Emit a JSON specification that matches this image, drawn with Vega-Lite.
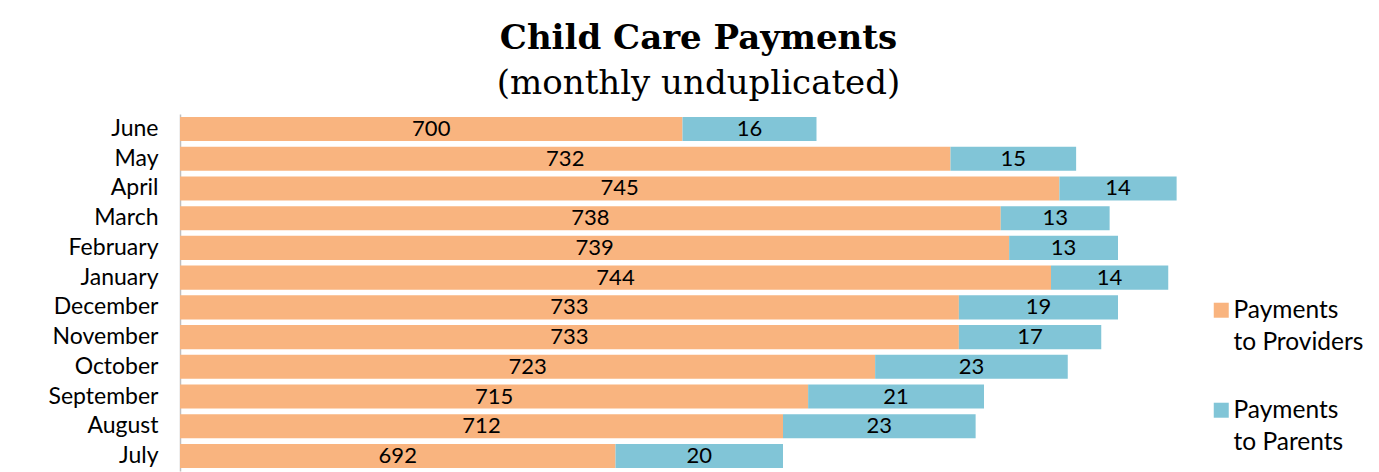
{
  "$schema": "https://vega.github.io/schema/vega-lite/v6.json",
  "width": 1005,
  "height": 357,
  "autosize": {"type": "none"},
  "padding": {"left": 180, "top": 114, "right": 194, "bottom": 1},
  "background": "white",
  "title": {
    "text": "Child Care Payments",
    "subtitle": "(monthly unduplicated)",
    "anchor": "middle",
    "frame": "group",
    "dx": 16,
    "offset": 13,
    "font": "DejaVu Serif",
    "fontSize": 34,
    "fontWeight": "bold",
    "color": "black",
    "subtitleFont": "DejaVu Serif",
    "subtitleFontSize": 34,
    "subtitleColor": "black",
    "subtitlePadding": 11
  },
  "data": {
    "values": [
      {"month": "June", "series": "Payments to Providers", "value": 700},
      {"month": "June", "series": "Payments to Parents", "value": 16},
      {"month": "May", "series": "Payments to Providers", "value": 732},
      {"month": "May", "series": "Payments to Parents", "value": 15},
      {"month": "April", "series": "Payments to Providers", "value": 745},
      {"month": "April", "series": "Payments to Parents", "value": 14},
      {"month": "March", "series": "Payments to Providers", "value": 738},
      {"month": "March", "series": "Payments to Parents", "value": 13},
      {"month": "February", "series": "Payments to Providers", "value": 739},
      {"month": "February", "series": "Payments to Parents", "value": 13},
      {"month": "January", "series": "Payments to Providers", "value": 744},
      {"month": "January", "series": "Payments to Parents", "value": 14},
      {"month": "December", "series": "Payments to Providers", "value": 733},
      {"month": "December", "series": "Payments to Parents", "value": 19},
      {"month": "November", "series": "Payments to Providers", "value": 733},
      {"month": "November", "series": "Payments to Parents", "value": 17},
      {"month": "October", "series": "Payments to Providers", "value": 723},
      {"month": "October", "series": "Payments to Parents", "value": 23},
      {"month": "September", "series": "Payments to Providers", "value": 715},
      {"month": "September", "series": "Payments to Parents", "value": 21},
      {"month": "August", "series": "Payments to Providers", "value": 712},
      {"month": "August", "series": "Payments to Parents", "value": 23},
      {"month": "July", "series": "Payments to Providers", "value": 692},
      {"month": "July", "series": "Payments to Parents", "value": 20}
    ]
  },
  "encoding": {
    "y": {
      "field": "month",
      "type": "nominal",
      "sort": null,
      "scale": {"paddingInner": 0.19, "paddingOuter": 0.1},
      "axis": {
        "title": null,
        "ticks": false,
        "labelPadding": 22,
        "labelFont": "Lato",
        "labelFontSize": 23,
        "labelColor": "black",
        "domainColor": "#bfbfbf",
        "domainWidth": 1.5,
        "grid": false
      }
    }
  },
  "layer": [
    {
      "mark": {"type": "bar", "clip": true},
      "encoding": {
        "x": {"field": "value", "type": "quantitative", "stack": "zero", "scale": {"domain": [640, 760], "zero": false, "nice": false}, "axis": null},
        "order": {"field": "series", "sort": "descending"},
        "color": {
          "field": "series",
          "type": "nominal",
          "scale": {"domain": ["Payments to Providers", "Payments to Parents"], "range": ["#F9B47F", "#81C5D7"]},
          "legend": {
            "title": null,
            "orient": "none",
            "legendX": 1029,
            "legendY": 192,
            "padding": 0,
            "symbolType": "M-1,-2.07H1V-0.07H-1Z",
            "symbolSize": 225,
            "symbolStrokeWidth": 0,
            "labelFont": "Lato",
            "labelFontSize": 24.5,
            "labelColor": "black",
            "labelOffset": 0,
            "labelBaseline": "alphabetic",
            "rowPadding": 43,
            "labelExpr": "['Payments', 'to ' + split(datum.label, ' ')[2]]"
          }
        }
      }
    },
    {
      "mark": {"type": "text", "font": "Lato", "fontSize": 22, "color": "black", "baseline": "middle", "clip": true},
      "encoding": {
        "x": {"field": "value", "type": "quantitative", "stack": "zero", "bandPosition": 0.5, "scale": {"domain": [640, 760], "zero": false, "nice": false}, "axis": null},
        "order": {"field": "series", "sort": "descending"},
        "text": {
          "condition": {"test": "datum.series == 'Payments to Providers'", "value": ""},
          "field": "value",
          "type": "quantitative"
        }
      }
    },
    {
      "transform": [{"filter": "datum.series == 'Payments to Providers'"}],
      "mark": {"type": "text", "font": "Lato", "fontSize": 22, "color": "black", "baseline": "middle"},
      "encoding": {
        "x": {"field": "value", "type": "quantitative", "stack": null, "scale": {"domain": [640, 880], "zero": false, "nice": false}, "axis": null},
        "text": {"field": "value", "type": "quantitative"}
      }
    }
  ],
  "resolve": {"scale": {"x": "independent"}},
  "config": {
    "view": {"stroke": null},
    "style": {"guide-label": {"lineHeight": 32}}
  }
}
